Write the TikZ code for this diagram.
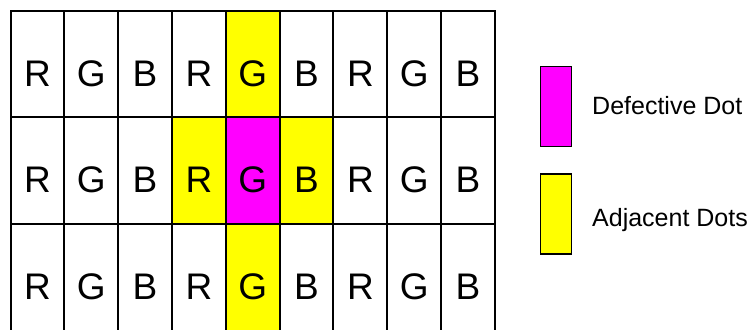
\documentclass[tikz,border=0pt]{standalone}
\usepackage{fontspec}
\setmainfont{Liberation Sans}
\definecolor{dotmag}{HTML}{FF00FF}
\definecolor{dotyel}{HTML}{FFFF00}
\begin{document}
\begin{tikzpicture}[x=1pt,y=-1pt,
  cell/.style={draw=black, line width=2pt, fill=white, minimum width=53.83pt, minimum height=106.6pt, inner sep=0pt, outer sep=0pt},
  letter/.style={font=\fontsize{37}{40}\selectfont, inner sep=0pt},
  legbox/.style={draw=black, line width=1.5pt, minimum width=31pt, minimum height=80pt, inner sep=0pt},
  legtext/.style={font=\fontsize{25}{29}\selectfont, anchor=west, inner sep=0pt}]
\useasboundingbox (0,0) rectangle (754,330);
\begin{scope}
\clip (0,0) rectangle (754,329.2);
\foreach \r in {0,1,2}{
  \foreach \c/\t in {0/R,1/G,2/B,3/R,4/G,5/B,6/R,7/G,8/B}{
    \pgfmathsetmacro{\cx}{10.5+53.83*\c+26.915}
    \pgfmathsetmacro{\cy}{10.7+106.6*\r+53.3}
    \def\fc{white}
    \ifnum\c=4 \def\fc{dotyel}\fi
    \ifnum\r=1 \ifnum\c=3 \def\fc{dotyel}\fi \ifnum\c=5 \def\fc{dotyel}\fi \ifnum\c=4 \def\fc{dotmag}\fi\fi
    \node[cell, fill=\fc] (c-\r-\c) at (\cx,\cy) {};
    \node[letter] (t-\r-\c) at ([yshift=-9.5pt]c-\r-\c.center) {\t};
  }
}
\end{scope}
\node[legbox, fill=dotmag] (defbox) at (556.2,106.3) {};
\node[legbox, fill=dotyel] (adjbox) at (556.2,214) {};
\node[legtext] (deftext) at (592,106) {Defective Dot};
\node[legtext] (adjtext) at (592,220) {Adjacent Dots};
\end{tikzpicture}
\end{document}
